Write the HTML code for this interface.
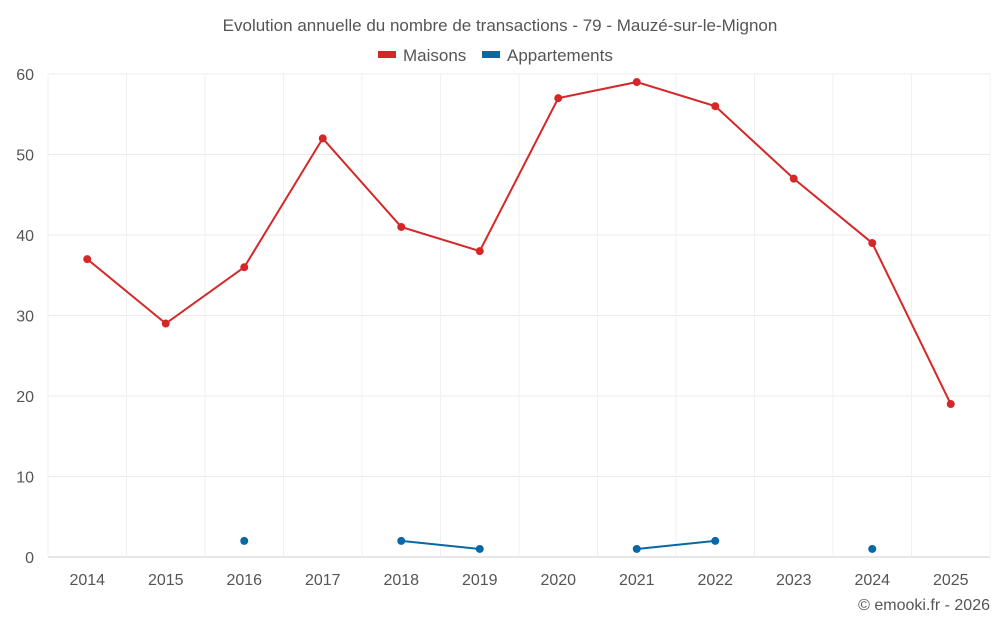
<!DOCTYPE html>
<html><head><meta charset="utf-8"><style>
body{margin:0;background:#fff;font-family:"Liberation Sans",sans-serif}
svg text{font-family:"Liberation Sans",sans-serif;fill:#555}
</style></head><body>
<svg id="c" width="1000" height="625">
<text x="500" y="31" text-anchor="middle" font-size="17">Evolution annuelle du nombre de transactions - 79 - Mauzé-sur-le-Mignon</text>
<g><rect x="378" y="51" width="18" height="7" fill="#d62728"/><text x="403" y="61" font-size="17">Maisons</text></g>
<g><rect x="482" y="51" width="18" height="7" fill="#0868a6"/><text x="507" y="61" font-size="17">Appartements</text></g>
<g id="grid"></g><g id="axes"></g><g id="marks"></g>
<text x="990" y="610" text-anchor="end" font-size="16">© emooki.fr - 2026</text>
</svg>
<script>
const categories=["2014","2015","2016","2017","2018","2019","2020","2021","2022","2023","2024","2025"];
const maisons=[37,29,36,52,41,38,57,59,56,47,39,19];
const appartements=[null,null,2,null,2,1,null,1,2,null,1,null];
const yTicks=[0,10,20,30,40,50,60];
const L=48,R=990,T=74,B=557,ymax=60;
const bw=(R-L)/categories.length;
const x=i=>L+bw*(i+0.5);
const y=v=>B-(v/ymax)*(B-T);
const NS="http://www.w3.org/2000/svg";
function mk(p,t,a){const e=document.createElementNS(NS,t);for(const k in a)e.setAttribute(k,a[k]);document.getElementById(p).appendChild(e);return e;}
yTicks.forEach(v=>{
 const g=mk("grid","line",{x1:L,x2:R,y1:y(v),y2:y(v),stroke:v===0?"#ccc":"#ebebeb"});
 
 
 const t=mk("axes","text",{x:L-14,y:y(v)+6,"text-anchor":"end","font-size":"16"});t.textContent=v;
 
 
});
for(let i=0;i<=categories.length;i++){
 const g=mk("grid","line",{x1:L+bw*i,x2:L+bw*i,y1:T,y2:B,stroke:"#f0f0f0"});
 
 
}
categories.forEach((c,i)=>{
 const t=mk("axes","text",{x:x(i),y:585,"text-anchor":"middle","font-size":"16"});t.textContent=c;
 
 
});
function series(data,color,name){
 let d="",pen=false;
 data.forEach((v,i)=>{if(v==null){pen=false;return;}d+=(pen?"L":"M")+x(i)+" "+y(v)+" ";pen=true;});
 const p=mk("marks","path",{d:d,fill:"none",stroke:color,"stroke-width":2});
 
 
 data.forEach((v,i)=>{if(v==null)return;
  const c=mk("marks","circle",{cx:x(i),cy:y(v),r:4,fill:color});
  
  
 });
}
series(maisons,"#d62728","maisons");
series(appartements,"#0868a6","appartements");
</script>
</body></html>
